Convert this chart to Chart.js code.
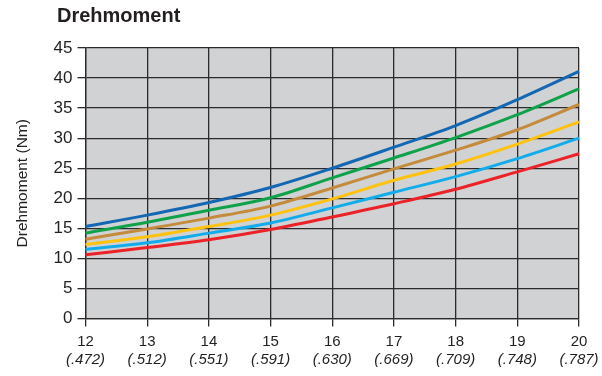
<!DOCTYPE html>
<html>
<head>
<meta charset="utf-8">
<script src="https://cdn.jsdelivr.net/npm/chart.js@4.4.1/dist/chart.umd.min.js"></script>
<style>
    body { margin: 0; background: #ffffff; }
    #wrap { position: relative; width: 602px; height: 376px; }
    #title {
        position: absolute;
        left: 57px;
        top: 4px;
        font-family: 'Liberation Sans', Arial, sans-serif;
        font-weight: bold;
        font-size: 20px;
        color: #231f20;
    }
</style>
</head>
<body>
<div id="wrap">
    <canvas id="torqueChart"></canvas>
    <div id="title">Drehmoment</div>
</div>
<script>
// x: mm values with inch values beneath
const sizes = ['12', '13', '14', '15', '16', '17', '18', '19', '20'];
const inchLabels = ['(.472)', '(.512)', '(.551)', '(.591)', '(.630)', '(.669)', '(.709)', '(.748)', '(.787)'];

const blueLine = [15.3, 17.2, 19.3, 21.8, 25.0, 28.5, 32.1, 36.4, 41.1];
const greenLine = [14.2, 16.0, 18.0, 20.1, 23.4, 26.7, 30.1, 33.9, 38.2];
const brownLine = [13.2, 14.9, 16.7, 18.7, 21.7, 24.9, 28.0, 31.4, 35.6];
const yellowLine = [12.3, 13.6, 15.3, 17.2, 19.9, 23.0, 25.7, 29.0, 32.7];
const cyanLine = [11.5, 12.6, 14.2, 15.9, 18.4, 21.0, 23.6, 26.6, 30.0];
const redLine = [10.6, 11.8, 13.1, 14.8, 16.9, 19.1, 21.5, 24.4, 27.4];

const yMin = 0;
const yMax = 45;
const yStep = 5;

const gridColor = '#2b2b2b';
const textColor = '#231f20';

const plotBg = {
    id: 'plotBg',
    beforeDraw(chart) {
        const { ctx, chartArea: { left, top, width, height } } = chart;
        ctx.save();
        ctx.fillStyle = '#d1d2d4';
        ctx.fillRect(left, top, width, height);
        ctx.restore();
    }
};

// second row of x labels (inch values, italic) placed by the x scale
const inchRow = {
    id: 'inchRow',
    afterDraw(chart) {
        const xs = chart.scales.x;
        const c = chart.ctx;
        c.save();
        c.font = 'italic 15px "Liberation Sans"';
        c.fillStyle = textColor;
        c.textAlign = 'center';
        c.textBaseline = 'middle';
        inchLabels.forEach((t, i) => {
            c.fillText(t, xs.getPixelForValue(i), xs.top + 41);
        });
        c.restore();
    }
};

function line(data, color) {
    return {
        data: data,
        borderColor: color,
        borderWidth: 3,
        pointRadius: 0,
        fill: false,
        cubicInterpolationMode: 'monotone'
    };
}

const ctx = document.getElementById('torqueChart').getContext('2d');
new Chart(ctx, {
    type: 'line',
    data: {
        labels: sizes,
        datasets: [
            line(blueLine, '#1467b3'),
            line(greenLine, '#0fa24b'),
            line(brownLine, '#c58b3c'),
            line(yellowLine, '#ffc20f'),
            line(cyanLine, '#13aceb'),
            line(redLine, '#ec2229')
        ]
    },
    options: {
        responsive: true,
        maintainAspectRatio: false,
        animation: false,
        layout: {
            padding: { left: 3, right: 23, top: 48, bottom: 19 }
        },
        plugins: {
            legend: { display: false },
            tooltip: { enabled: false }
        },
        scales: {
            x: {
                offset: false,
                ticks: {
                    color: textColor,
                    padding: 7,
                    maxRotation: 0,
                    font: { family: 'Liberation Sans', size: 15, lineHeight: 1.1 }
                },
                grid: {
                    color: gridColor,
                    lineWidth: 1.3,
                    tickLength: 8
                },
                border: { color: gridColor, width: 1.3 }
            },
            y: {
                min: yMin,
                max: yMax,
                ticks: {
                    stepSize: yStep,
                    color: textColor,
                    padding: 5,
                    font: { family: 'Liberation Sans', size: 17 }
                },
                grid: {
                    color: gridColor,
                    lineWidth: 1.3,
                    tickLength: 8
                },
                border: { color: gridColor, width: 1.3 },
                title: {
                    display: true,
                    text: 'Drehmoment (Nm)',
                    color: textColor,
                    padding: { top: 10, bottom: 17 },
                    font: { family: 'Liberation Sans', size: 15.5 }
                }
            }
        }
    },
    plugins: [plotBg, inchRow]
});
</script>
</body>
</html>
